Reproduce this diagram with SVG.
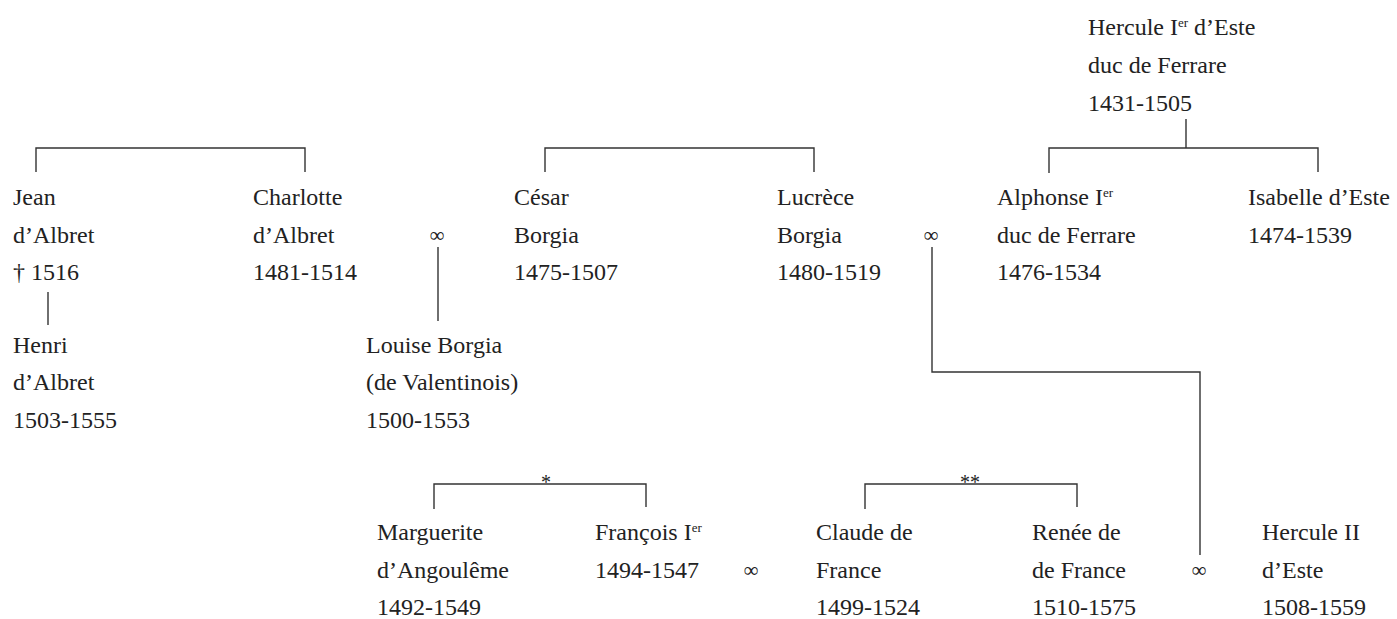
<svg xmlns="http://www.w3.org/2000/svg" width="1397" height="619" viewBox="0 0 1397 619">
<style>
  text { font-family: "Liberation Serif", "DejaVu Serif", serif; font-size: 24px; fill: #222; }
  .sym { text-anchor: middle; font-size: 21px; }
  .ast { text-anchor: middle; font-size: 20px; }
  .sup { font-size: 13px; }
  .ln { fill: none; stroke: #333; stroke-width: 1.4; }
</style>
<rect width="1397" height="619" fill="#fff"/>
<g id="connectors">
  <path class="ln" d="M36,172 V148 H305 V172"/>
  <path class="ln" d="M48,292 V325"/>
  <path class="ln" d="M438,247 V321"/>
  <path class="ln" d="M545,172 V148 H814 V172"/>
  <path class="ln" d="M1186,119 V148"/>
  <path class="ln" d="M1049,173 V148 H1318 V172"/>
  <path class="ln" d="M932,247 V372 H1200 V555"/>
  <path class="ln" d="M434,509 V484 H646 V507"/>
  <path class="ln" d="M865,509 V484 H1077 V507"/>
  <text class="ast" x="546" y="489">*</text>
  <text class="ast" x="970" y="489">**</text>
  <text class="sym" x="437" y="242">∞</text>
  <text class="sym" x="931" y="242">∞</text>
  <text class="sym" x="751" y="577">∞</text>
  <text class="sym" x="1199" y="577">∞</text>
</g>
<g id="hercule1">
  <text x="1088" y="35">Hercule I<tspan class="sup" dy="-8">er</tspan><tspan dy="8"> d’Este</tspan></text>
  <text x="1088" y="73">duc de Ferrare</text>
  <text x="1088" y="111">1431-1505</text>
</g>
<g id="jean">
  <text x="13" y="205">Jean</text>
  <text x="13" y="243">d’Albret</text>
  <text x="13" y="280">† 1516</text>
</g>
<g id="charlotte">
  <text x="253" y="205">Charlotte</text>
  <text x="253" y="243">d’Albret</text>
  <text x="253" y="280">1481-1514</text>
</g>
<g id="cesar">
  <text x="514" y="205">César</text>
  <text x="514" y="243">Borgia</text>
  <text x="514" y="280">1475-1507</text>
</g>
<g id="lucrece">
  <text x="777" y="205">Lucrèce</text>
  <text x="777" y="243">Borgia</text>
  <text x="777" y="280">1480-1519</text>
</g>
<g id="alphonse">
  <text x="997" y="205">Alphonse I<tspan class="sup" dy="-8">er</tspan></text>
  <text x="997" y="243">duc de Ferrare</text>
  <text x="997" y="280">1476-1534</text>
</g>
<g id="isabelle">
  <text x="1248" y="205">Isabelle d’Este</text>
  <text x="1248" y="243">1474-1539</text>
</g>
<g id="henri">
  <text x="13" y="353">Henri</text>
  <text x="13" y="390">d’Albret</text>
  <text x="13" y="428">1503-1555</text>
</g>
<g id="louise">
  <text x="366" y="353">Louise Borgia</text>
  <text x="366" y="390">(de Valentinois)</text>
  <text x="366" y="428">1500-1553</text>
</g>
<g id="marguerite">
  <text x="377" y="540">Marguerite</text>
  <text x="377" y="578">d’Angoulême</text>
  <text x="377" y="615">1492-1549</text>
</g>
<g id="francois">
  <text x="595" y="540">François I<tspan class="sup" dy="-8">er</tspan></text>
  <text x="595" y="578">1494-1547</text>
</g>
<g id="claude">
  <text x="816" y="540">Claude de</text>
  <text x="816" y="578">France</text>
  <text x="816" y="615">1499-1524</text>
</g>
<g id="renee">
  <text x="1032" y="540">Renée de</text>
  <text x="1032" y="578">de France</text>
  <text x="1032" y="615">1510-1575</text>
</g>
<g id="hercule2">
  <text x="1262" y="540">Hercule II</text>
  <text x="1262" y="578">d’Este</text>
  <text x="1262" y="615">1508-1559</text>
</g>
</svg>
